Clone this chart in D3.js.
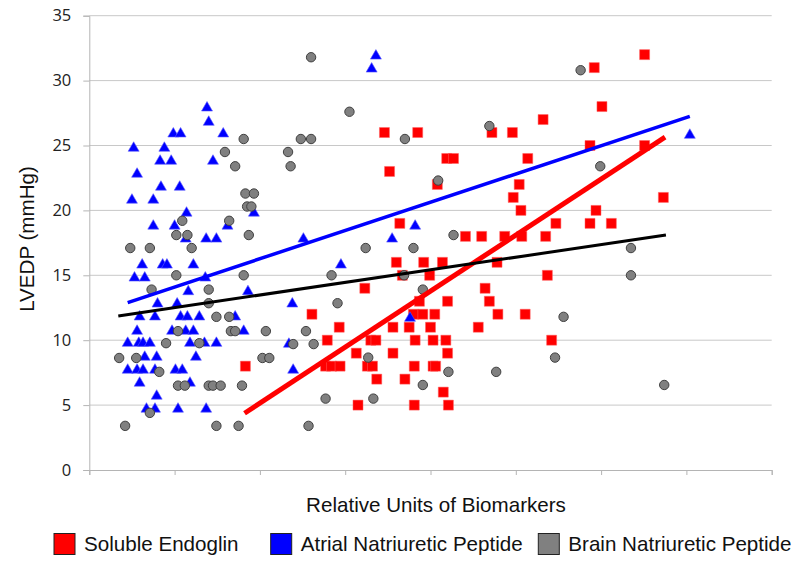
<!DOCTYPE html>
<html lang="en">
<head>
<meta charset="UTF-8">
<title>LVEDP vs Biomarkers</title>
<script src="https://d3js.org/d3.v7.min.js"></script>
<style>
  body { margin: 0; background: #fff; }
</style>
</head>
<body>
<div id="chart"></div>
<script>
// series: [relative units, LVEDP]
var endoglin = [
  [6.51,32],[5.92,31],[6.01,28],[5.32,27],[3.85,26],[4.72,26],[4.96,26],[5.87,25],[6.51,25],
  [4.19,24],[4.27,24],[5.14,24],[4.08,22],[5.04,22],[4.97,21],[6.73,21],[5.06,20],[5.94,20],
  [3.64,19],[5.47,19],[5.87,19],[6.12,19],[4.41,18],[4.60,18],[4.87,18],[5.07,18],[5.35,18],
  [3.46,26],[3.52,23],[3.60,16],[3.92,16],[4.14,16],[4.78,16],[3.99,15],[5.37,15],[3.67,15],
  [4.64,14],[3.87,13],[4.20,13],[4.69,13],[3.80,12],[3.91,12],[4.05,12],[4.79,12],[5.11,12],
  [3.75,11],[4.00,11],[4.56,11],[3.82,10],[4.03,10],[4.18,10],[5.42,10],[4.20,9],[3.81,8],
  [4.03,8],[4.06,8],[3.70,7],[4.15,6],[3.81,5],[4.21,5],
  [3.23,14],[2.61,12],[2.93,11],[3.56,11],[2.79,10],[3.30,10],[3.36,10],[3.13,9],[3.56,9],
  [1.83,8],[2.77,8],[2.84,8],[2.94,8],[3.26,8],[3.32,8],[3.37,7],[3.15,5]
];
var anp = [
  [1.38,27.9],[1.40,26.8],[0.985,25.9],[1.07,25.9],[1.57,25.9],[0.52,24.8],[0.88,24.8],
  [0.83,23.8],[0.96,23.8],[1.45,23.8],[0.56,22.8],[0.84,21.8],[1.06,21.8],[0.50,20.8],
  [0.75,20.8],[1.14,19.8],[1.93,19.8],[0.75,18.8],[1.00,18.8],[1.62,18.8],[1.13,17.8],
  [1.37,17.8],[1.49,17.8],[0.62,15.8],[0.86,15.8],[0.91,15.8],[1.22,15.8],[0.53,14.8],
  [0.65,14.8],[1.36,14.8],[1.16,13.75],[1.86,13.75],[0.80,12.8],[1.03,12.8],[0.59,11.8],
  [0.77,11.8],[1.07,11.8],[1.15,11.8],[1.29,11.8],[1.71,11.8],[0.56,10.7],[0.97,10.7],
  [1.13,10.7],[1.22,10.7],[1.81,10.7],[0.45,9.77],[0.58,9.77],[0.63,9.77],[0.71,9.77],
  [1.18,9.77],[1.35,9.77],[1.49,9.77],[0.65,8.7],[0.79,8.7],[1.25,8.7],[0.45,7.7],
  [0.56,7.7],[0.63,7.7],[0.77,7.7],[1.01,7.7],[1.09,7.7],[0.59,6.7],[1.18,6.7],[0.79,5.7],
  [0.67,4.7],[0.77,4.7],[1.04,4.7],[1.37,4.7],
  [2.95,15.8],[2.38,12.8],[2.34,9.7],[2.39,7.7],[2.51,17.8],[3.36,31.9],[3.31,30.9],
  [3.55,17.8],[3.82,18.8],[7.04,25.8],[3.76,11.7]
];
var bnp = [
  [1.81,25.5],[1.59,24.5],[1.71,23.4],[1.83,21.3],[1.93,21.3],[1.85,20.3],[1.90,20.3],
  [1.09,19.2],[1.64,19.2],[1.02,18.1],[1.15,18.1],[1.87,18.1],[0.48,17.1],[0.71,17.1],
  [1.20,17.1],[1.02,15.0],[1.81,15.0],[0.73,13.9],[1.40,13.9],[1.40,12.85],[1.49,11.8],
  [1.64,11.8],[1.04,10.7],[1.66,10.7],[1.71,10.7],[2.07,10.7],[0.90,9.77],[1.29,9.77],
  [0.35,8.63],[0.55,8.63],[2.03,8.63],[2.11,8.63],[0.82,7.56],[1.04,6.5],[1.12,6.5],
  [1.40,6.5],[1.45,6.5],[1.54,6.5],[1.79,6.5],[0.71,4.4],[0.42,3.4],[1.49,3.4],[1.75,3.4],
  [3.24,17.1],[2.84,15.0],[2.91,12.85],[2.54,10.7],[2.63,9.7],[2.39,9.7],[2.77,5.5],
  [3.27,8.66],[3.33,5.5],[2.57,3.4],
  [2.60,31.8],[3.05,27.6],[2.48,25.5],[2.60,25.5],[2.33,24.5],[2.36,23.4],
  [5.76,30.8],[4.69,26.5],[3.70,25.5],[5.99,23.4],[4.09,22.3],[4.27,18.1],[3.80,17.1],
  [6.35,17.1],[3.69,15.0],[3.91,13.9],[6.35,15.0],[5.56,11.8],[5.46,8.66],[4.21,7.56],
  [4.77,7.56],[3.91,6.55],[6.74,6.55]
];
// trend line end points
var endoglinTrend = [[1.82,4.37],[6.75,25.65]];
var anpTrend = [[0.45,12.9],[7.04,27.25]];
var bnpTrend = [[0.34,11.87],[6.76,18.1]];

var seriesNames = ["Soluble Endoglin", "Atrial Natriuretic Peptide", "Brain Natriuretic Peptide"];
var seriesColors = ["#ff0000", "#0000ff", "#808080"];
var yTicks = [0, 5, 10, 15, 20, 25, 30, 35];
var xTicks = [0, 1, 2, 3, 4, 5, 6, 7, 8];

var W = 797, H = 562;
var plotLeft = 89.3, plotRight = 771.7, plotTop = 15.7, plotBottom = 470;

var svg = d3.select("#chart").append("svg")
  .attr("width", W).attr("height", H)
  .style("font-family", "'Liberation Sans', Arial, sans-serif");

var x = d3.scaleLinear().domain([0, 8]).range([plotLeft, plotRight]);
var y = d3.scaleLinear().domain([0, 35]).range([plotBottom, plotTop]);

// grid
svg.append("g")
  .selectAll("line").data(yTicks.slice(1)).enter().append("line")
  .attr("x1", plotLeft).attr("x2", plotRight)
  .attr("y1", function(d) { return y(d); }).attr("y2", function(d) { return y(d); })
  .attr("stroke", "#c8c8c8").attr("stroke-width", 1);

// y axis
var yAxis = svg.append("g")
  .attr("transform", "translate(" + plotLeft + ",0)")
  .call(d3.axisLeft(y).tickValues(yTicks).tickSize(6).tickPadding(12));
yAxis.select(".domain").attr("stroke", "#b4b4b4");
yAxis.selectAll(".tick line").attr("stroke", "#b4b4b4");
yAxis.selectAll("text")
  .style("font-family", "'Open Sans', sans-serif")
  .style("font-size", "16.5px").attr("fill", "#222");

// x axis
var xAxis = svg.append("g")
  .attr("transform", "translate(0," + plotBottom + ")")
  .call(d3.axisBottom(x).tickValues(xTicks).tickSize(5).tickFormat(""));
xAxis.select(".domain").attr("stroke", "#b4b4b4");
xAxis.selectAll(".tick line").attr("stroke", "#b4b4b4");

// markers
svg.append("g").selectAll("path").data(endoglin).enter().append("path")
  .attr("d", d3.symbol().type(d3.symbolSquare).size(100))
  .attr("transform", function(d) { return "translate(" + x(d[0]) + "," + y(d[1]) + ")"; })
  .attr("fill", seriesColors[0]).attr("stroke", "#ff6060").attr("stroke-width", 0.5);

svg.append("g").selectAll("path").data(anp).enter().append("path")
  .attr("d", d3.symbol().type(d3.symbolTriangle).size(52))
  .attr("transform", function(d) { return "translate(" + x(d[0]) + "," + y(d[1]) + ")"; })
  .attr("fill", seriesColors[1]).attr("stroke", "#5a5aff").attr("stroke-width", 0.6);

svg.append("g").selectAll("circle").data(bnp).enter().append("circle")
  .attr("cx", function(d) { return x(d[0]); })
  .attr("cy", function(d) { return y(d[1]); })
  .attr("r", 4.7)
  .attr("fill", seriesColors[2]).attr("stroke", "#404040").attr("stroke-width", 1);

// trend lines
var line = d3.line().x(function(d) { return x(d[0]); }).y(function(d) { return y(d[1]); });
svg.append("path").datum(endoglinTrend).attr("d", line)
  .attr("stroke", "#ff0000").attr("stroke-width", 5).attr("fill", "none");
svg.append("path").datum(anpTrend).attr("d", line)
  .attr("stroke", "#0000ff").attr("stroke-width", 3.5).attr("fill", "none");
svg.append("path").datum(bnpTrend).attr("d", line)
  .attr("stroke", "#000000").attr("stroke-width", 3).attr("fill", "none");

// axis titles
svg.append("text")
  .attr("x", 436).attr("y", 511.5)
  .attr("text-anchor", "middle")
  .style("font-size", "20.6px").attr("fill", "#111")
  .text("Relative Units of Biomarkers");

svg.append("text")
  .attr("transform", "translate(34,239) rotate(-90)")
  .attr("text-anchor", "middle")
  .style("font-size", "20.6px").attr("fill", "#111")
  .text("LVEDP (mmHg)");

// legend
var legendX = [54, 270.7, 538.3];
var legend = svg.append("g");
seriesNames.forEach(function(name, i) {
  legend.append("rect")
    .attr("x", legendX[i]).attr("y", 533.5)
    .attr("width", 21).attr("height", 21)
    .attr("fill", seriesColors[i]).attr("stroke", "#222").attr("stroke-width", 1);
  legend.append("text")
    .attr("x", legendX[i] + 30).attr("y", 550.5)
    .style("font-size", "20.6px").attr("fill", "#111")
    .text(name);
});
</script>
</body>
</html>
